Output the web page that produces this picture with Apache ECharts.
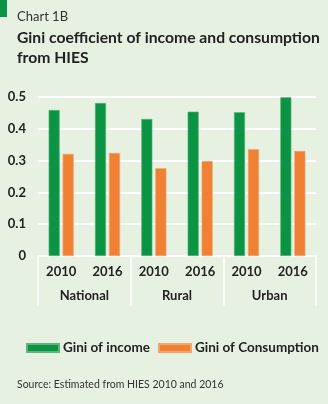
<!DOCTYPE html>
<html><head><meta charset="utf-8">
<script src="https://cdn.jsdelivr.net/npm/echarts@6/dist/echarts.min.js"></script>
<style>html,body{margin:0;padding:0;background:#e6f1e1;}#c{width:328px;height:404px;}</style>
</head><body><div id="c"></div>
<script>
var years = ['2010','2016','2010','2016','2010','2016'];
var groups = ['National','Rural','Urban'];
var giniIncome = [0.459, 0.481, 0.431, 0.454, 0.452, 0.499];
var giniConsumption = [0.321, 0.324, 0.276, 0.299, 0.336, 0.330];
var yTicks = [0, 0.1, 0.2, 0.3, 0.4, 0.5];

var F = 'Lato, "Liberation Sans", sans-serif';
var chart = echarts.init(document.getElementById('c'));
chart.setOption({
  backgroundColor: '#e6f1e1',
  animation: false,
  title: [
    {text: 'Chart 1B', left: 12, top: 5, textStyle: {fontFamily: F, fontSize: 13, fontWeight: 'normal', color: '#333'}},
    {text: 'Gini coefficient of income and consumption\nfrom HIES', left: 12, top: 23,
     textStyle: {fontFamily: F, fontSize: 15.7, fontWeight: 'bold', color: '#222', lineHeight: 20}},
    {text: 'Source: Estimated from HIES 2010 and 2016', left: 12, top: 374,
     textStyle: {fontFamily: F, fontSize: 10.5, fontWeight: 'normal', color: '#333'}}
  ],
  graphic: [{type: 'rect', left: 0, top: 0, shape: {width: 7, height: 17}, style: {fill: '#0b9444'}}],
  legend: {
    left: 21, top: 336, itemWidth: 32, itemHeight: 8, itemGap: 8, icon: 'rect',
    textStyle: {fontFamily: F, fontSize: 13.5, fontWeight: 'bold', color: '#222', padding: [0,0,0,-1]},
    data: ['Gini of income', 'Gini of Consumption']
  },
  grid: {left: 38, right: 12, top: 97, bottom: 148},
  xAxis: [
    {type: 'category', data: years, position: 'bottom',
     axisLine: {lineStyle: {color: '#ffffff', width: 2}}, axisTick: {show: false},
     axisLabel: {fontFamily: F, fontSize: 13, fontWeight: 'bold', color: '#222', margin: 9}},
    {type: 'category', data: groups, position: 'bottom',
     axisLine: {show: false},
     axisTick: {show: true, length: 50, lineStyle: {color: '#ffffff', width: 1.5}},
     axisLabel: {fontFamily: F, fontSize: 13, fontWeight: 'bold', color: '#222', margin: 33}}
  ],
  yAxis: {type: 'value', min: 0, max: 0.5, interval: 0.1,
    axisLine: {show: false}, axisTick: {show: false},
    splitLine: {lineStyle: {color: '#ffffff', width: 2}},
    axisLabel: {fontFamily: F, fontSize: 13, fontWeight: 'bold', color: '#222', margin: 12,
      formatter: function(v){ return yTicks.indexOf(Math.round(v*10)/10) >= 0 ? (v === 0 ? '0' : v.toFixed(1)) : ''; }}
  },
  series: [
    {name: 'Gini of income', type: 'bar', data: giniIncome, barGap: '27%', barCategoryGap: '46%',
     itemStyle: {color: '#0b9444', borderColor: '#5db57c', borderWidth: 0.6}},
    {name: 'Gini of Consumption', type: 'bar', data: giniConsumption,
     itemStyle: {color: '#f08033', borderColor: '#f5a46c', borderWidth: 0.6}}
  ]
});
</script>
</body></html>
